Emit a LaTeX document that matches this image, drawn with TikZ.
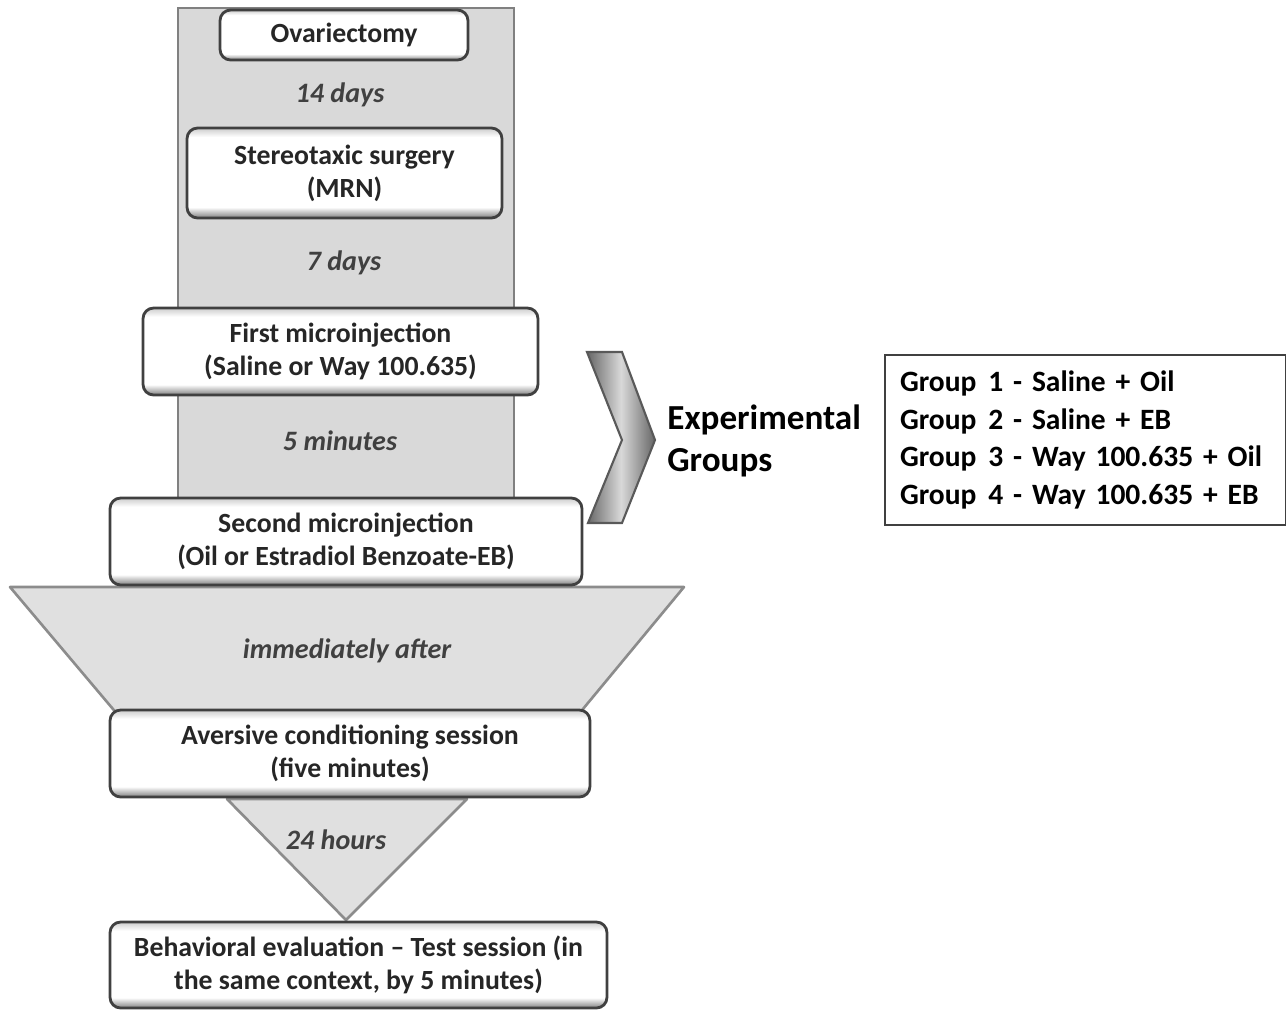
\documentclass[tikz,border=0pt]{standalone}
\usepackage{fontspec}
\setmainfont{Carlito}
\pgfdeclareverticalshading{bevel}{100bp}{color(0bp)=(black!50); color(25bp)=(black!50); color(31bp)=(white); color(70bp)=(white); color(75bp)=(black!20); color(100bp)=(black!20)}

\begin{document}
\begin{tikzpicture}[x=0.02cm,y=-0.02cm,
		stage/.style={draw=black!75,line width=1.6pt,rounded corners=6pt,
			shading=bevel,align=center,text=black!85,inner sep=0pt,
			font=\fontsize{15.8}{18.7}\selectfont\bfseries},
		delay/.style={text=black!75,font=\fontsize{16}{18}\selectfont\bfseries\itshape},
		column/.style={fill=black!15,draw=black!50,line width=1.5pt},
		funnel/.style={fill=black!12,draw=black!45,line width=1.5pt,line join=round},
		chevron/.style={draw=black!65,line width=1.2pt,left color=black!60,right color=black!60,middle color=black!15}]

		\useasboundingbox (0,0) rectangle (1286,1012);

		% background shapes
		\draw [column] (178,8) rectangle (514,505);
		\draw [funnel] (10,587) -- (684,587) -- (578,715) -- (118,715) -- cycle;
		\draw [funnel] (227,799) -- (467,799) -- (346,920) -- cycle;
		\draw [chevron] (587,352) -- (622,352) -- (655,440) -- (622,523) -- (588,523) -- (622,440) -- cycle;

		% stages
		\node [stage, minimum width=4.96cm, minimum height=1cm] (ovx) at (344,35) {Ovariectomy};
		\node [stage, minimum width=6.3cm, minimum height=1.8cm] (ster) at (344.5,173) {Stereotaxic surgery\\(MRN)};
		\node [stage, minimum width=7.9cm, minimum height=1.74cm] (first) at (340.5,351.5) {First microinjection\\(Saline or Way 100.635)};
		\node [stage, minimum width=9.44cm, minimum height=1.74cm] (second) at (346,541.5) {Second microinjection\\(Oil or Estradiol Benzoate-EB)};
		\node [stage, minimum width=9.6cm, minimum height=1.74cm] (avers) at (350,753.5) {Aversive conditioning session\\(five minutes)};
		\node [stage, minimum width=9.94cm, minimum height=1.72cm] (behav) at (358.5,965) {Behavioral evaluation -- Test session (in\\the same context, by 5 minutes)};

		% delays
		\node [delay] (d14) at (340,95) {14 days};
		\node [delay] (d7) at (344,263) {7 days};
		\node [delay] (d5) at (340,441) {5 minutes};
		\node [delay] (dimm) at (347,651) {immediately after};
		\node [delay] (d24) at (336,840) {24 hours};

		% groups
		\node [anchor=west, align=left, inner sep=0pt, font=\fontsize{20}{23.8}\selectfont\bfseries] (expg) at (667,441) {Experimental\\Groups};
		\node [draw=black!75, line width=1.4pt, fill=white, align=left, text width=7.42cm,
			inner xsep=0.3cm, minimum height=3.4cm, font=\fontsize{16.8}{21.5}\selectfont\bfseries] (groups) at (1085.5,440)
			{Group\hskip0.4em 1 - Saline + Oil\\Group\hskip0.4em 2 - Saline + EB\\Group\hskip0.4em 3 - Way 100.635 + Oil\\Group\hskip0.4em 4 - Way 100.635 + EB};
\end{tikzpicture}
\end{document}
